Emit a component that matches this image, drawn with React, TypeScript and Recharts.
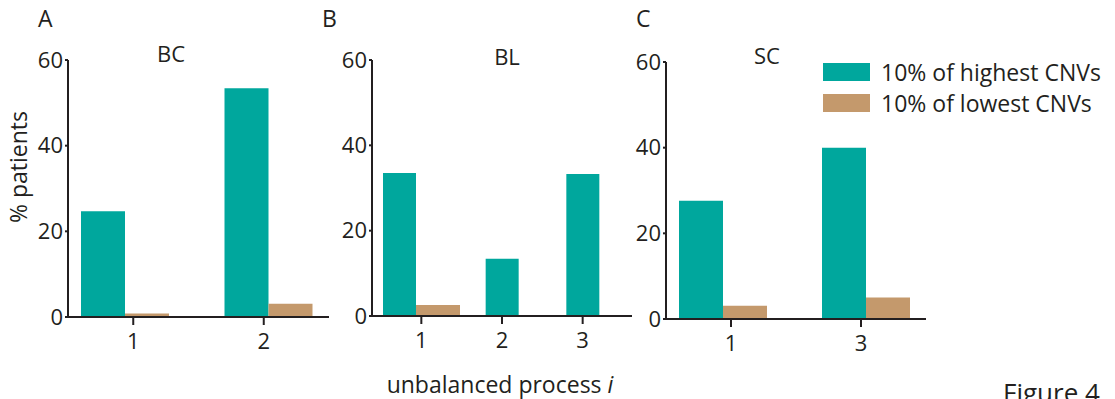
import { Bar, BarChart, Legend, Rectangle, XAxis, YAxis } from 'recharts';

const INK = '#231f20';
const TEAL = '#00a79d';
const TAN = '#c4996c';

const HIGH = '10% of highest CNVs';
const LOW = '10% of lowest CNVs';

// A – BC
const bcProc = ['1', '2'];
const bcHigh = [24.7, 53.4];
const bcLow = [0.8, 3.1];

// B – BL (no low-CNV bar for processes 2 and 3)
const blProc = ['1', '2', '3'];
const blHigh = [33.5, 13.4, 33.3];
const blLow = [2.6, null, null];

// C – SC
const scProc = ['1', '3'];
const scHigh = [27.6, 40.0];
const scLow = [3.1, 5.0];

const yTicks = [0, 20, 40, 60];

const rows = (proc: string[], high: number[], low: (number | null)[]) =>
  proc.map((p, i) => ({ p, high: high[i], low: low[i] }));

const X_H = 40;
const FONT = '"Open Sans", sans-serif';

const renderLegend = ({ payload }: any) => (
  <div>
    {(payload || []).map((e: any) => (
      <div key={e.value} style={{ display: 'flex', alignItems: 'center', height: 31, whiteSpace: 'nowrap' }}>
        <span style={{ display: 'inline-block', width: 47, height: 18, background: e.color, marginRight: 11 }} />
        <span style={{ fontSize: 23, color: INK }}>{e.value}</span>
      </div>
    ))}
  </div>
);

interface PanelProps {
  left: number;
  axisX: number;
  plotTop: number;
  plotBottom: number;
  plotRight: number;
  data: { p: string; high: number; low: number | null }[];
  tickPad?: { left: number; right: number };
  barPad?: { left: number; right: number };
  highSize: number;
  lowSize: number;
  legend?: boolean;
}

function Panel({ left, axisX, plotTop, plotBottom, plotRight, data, tickPad, barPad, highSize, lowSize, legend }: PanelProps) {
  const width = plotRight - left + 12;
  const barAxis = barPad ? 'bar' : 0;
  return (
    <div style={{ position: 'absolute', left, top: 0 }}>
      <BarChart
        width={width}
        height={399}
        data={data}
        barGap={0}
        margin={{ top: plotTop, right: 12, bottom: 399 - plotBottom - X_H, left: 0 }}
      >
        <YAxis
          width={axisX - left}
          domain={[0, 60]}
          ticks={yTicks}
          interval={0}
          axisLine={{ stroke: INK, strokeWidth: 2 }}
          tickLine={{ stroke: INK, strokeWidth: 2 }}
          tickSize={3}
          tickMargin={2}
          tick={{ fill: INK, fontSize: 22 }}
        />
        <XAxis
          dataKey="p"
          height={X_H}
          padding={tickPad || { left: 0, right: 0 }}
          axisLine={{ stroke: INK, strokeWidth: 2 }}
          tickLine={{ stroke: INK, strokeWidth: 2 }}
          tickSize={8}
          tickMargin={8}
          tick={{ fill: INK, fontSize: 22 }}
        />
        {barPad && <XAxis xAxisId="bar" dataKey="p" hide padding={barPad} />}
        <Bar
          xAxisId={barAxis}
          dataKey="high"
          name={HIGH}
          fill={TEAL}
          barSize={highSize}
          isAnimationActive={false}
          shape={(s: any) => (
            <Rectangle {...s} x={s.payload.low == null ? s.x + lowSize / 2 : s.x} />
          )}
        />
        <Bar
          xAxisId={barAxis}
          dataKey="low"
          name={LOW}
          fill={TAN}
          barSize={lowSize}
          isAnimationActive={false}
        />
        {legend && (
          <Legend
            layout="vertical"
            align="center"
            verticalAlign="middle"
            content={renderLegend}
            wrapperStyle={{ left: 823 - left, top: 56, width: 290 }}
          />
        )}
      </BarChart>
    </div>
  );
}

export default function App() {
  return (
    <div
      style={{
        position: 'absolute',
        left: 0,
        top: 0,
        width: 1115,
        height: 399,
        overflow: 'hidden',
        background: '#fff',
        fontFamily: FONT,
        color: INK,
      }}
    >
      <Panel
        left={0}
        axisX={68}
        plotTop={60}
        plotBottom={317}
        plotRight={329}
        data={rows(bcProc, bcHigh, bcLow)}
        barPad={{ left: -15, right: -11 }}
        highSize={44}
        lowSize={44}
      />
      <Panel
        left={300}
        axisX={372}
        plotTop={60}
        plotBottom={316}
        plotRight={632}
        data={rows(blProc, blHigh, blLow)}
        tickPad={{ left: 9, right: 9 }}
        highSize={33}
        lowSize={44}
      />
      <Panel
        left={600}
        axisX={666}
        plotTop={62}
        plotBottom={319}
        plotRight={926}
        data={rows(scProc, scHigh, scLow)}
        barPad={{ left: -15, right: -11 }}
        highSize={44}
        lowSize={44}
        legend
      />
      <svg
        width={1115}
        height={399}
        style={{ position: 'absolute', left: 0, top: 0, pointerEvents: 'none' }}
        fontFamily={FONT}
        fill={INK}
      >
        <text x={38} y={27} fontSize={23}>A</text>
        <text x={322} y={27} fontSize={23}>B</text>
        <text x={636} y={27} fontSize={23}>C</text>
        <text x={171} y={62} fontSize={22} textAnchor="middle">BC</text>
        <text x={507} y={65} fontSize={22} textAnchor="middle">BL</text>
        <text x={767} y={64} fontSize={22} textAnchor="middle">SC</text>
        <text
          x={18}
          y={167}
          fontSize={23}
          textAnchor="middle"
          dominantBaseline="central"
          transform="rotate(-90 18 167)"
        >
          % patients
        </text>
        <text x={500} y={393} fontSize={23} textAnchor="middle">
          unbalanced process <tspan fontStyle="italic">i</tspan>
        </text>
        <text x={1003} y={402} fontSize={26}>Figure 4</text>
      </svg>
    </div>
  );
}
